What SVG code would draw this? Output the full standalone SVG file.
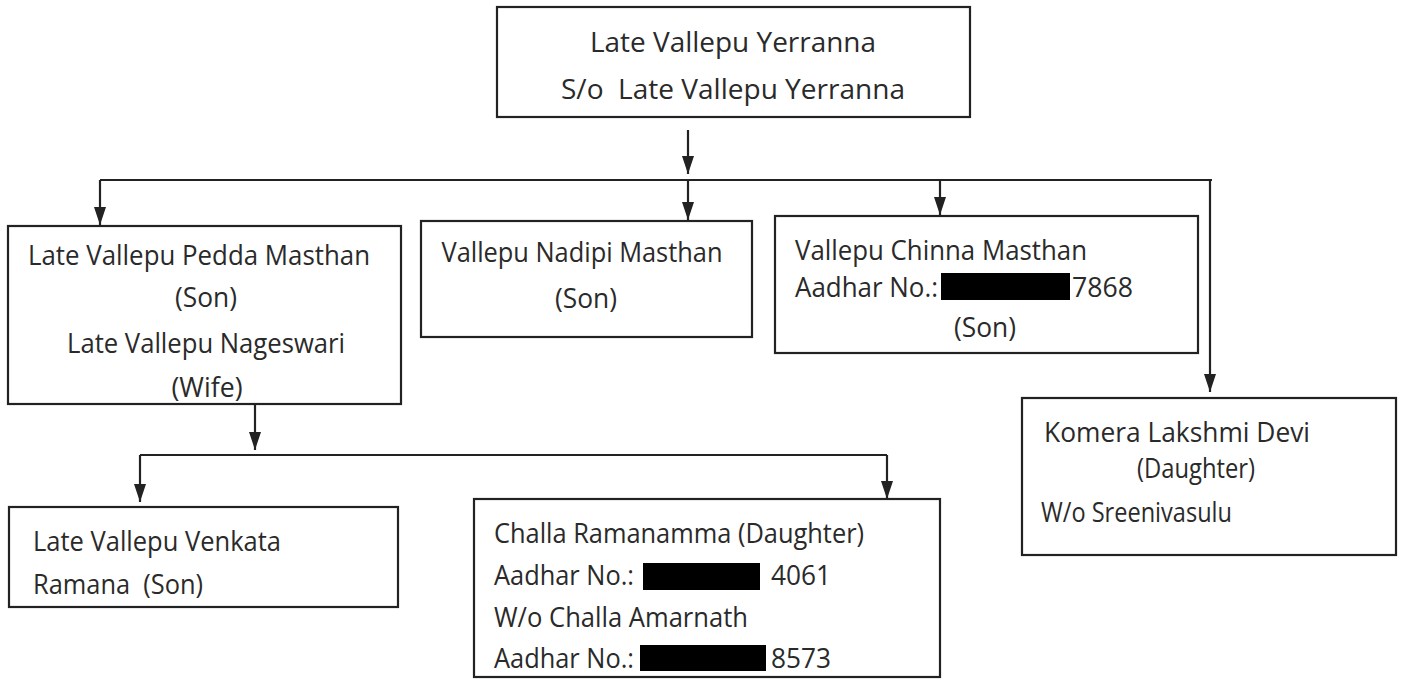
<svg xmlns="http://www.w3.org/2000/svg" width="1406" height="679" viewBox="0 0 1406 679">
<style>
.box{fill:#fff;stroke:#222;stroke-width:2.2}
.t{font-family:"Open Sans","Liberation Sans",sans-serif;font-size:27px;fill:#2a2a2a}
.c{text-anchor:middle}
.con{fill:none;stroke:#222;stroke-width:2.2}
.red{fill:#000}
</style>
<defs>
<marker id="ah" viewBox="0 0 18 12" refX="18" refY="6" markerWidth="18" markerHeight="12" markerUnits="userSpaceOnUse" orient="auto">
<path d="M0,0 L18,6 L0,12 z" fill="#222"/>
</marker>
</defs>
<rect width="1406" height="679" fill="#fff"/>
<g id="connectors">
<path class="con" d="M688,130 V174" marker-end="url(#ah)"/>
<path class="con" d="M100,180 H1212"/>
<path class="con" d="M100,180 V225" marker-end="url(#ah)"/>
<path class="con" d="M688,180 V220" marker-end="url(#ah)"/>
<path class="con" d="M940,180 V215" marker-end="url(#ah)"/>
<path class="con" d="M1210,180 V392" marker-end="url(#ah)"/>
<path class="con" d="M255,404 V450" marker-end="url(#ah)"/>
<path class="con" d="M140,455 H887"/>
<path class="con" d="M140,455 V502" marker-end="url(#ah)"/>
<path class="con" d="M887,455 V499" marker-end="url(#ah)"/>
</g>
<g id="root">
<rect class="box" x="497" y="7" width="473" height="110"/>
<text class="t c" x="733" y="52" textLength="286" lengthAdjust="spacingAndGlyphs">Late Vallepu Yerranna</text>
<text class="t c" x="733" y="99" textLength="344" lengthAdjust="spacingAndGlyphs" xml:space="preserve">S/o  Late Vallepu Yerranna</text>
</g>
<g id="pedda">
<rect class="box" x="8" y="226" width="393" height="178"/>
<text class="t c" x="199" y="265" textLength="342" lengthAdjust="spacingAndGlyphs">Late Vallepu Pedda Masthan</text>
<text class="t c" x="206" y="307" textLength="62" lengthAdjust="spacingAndGlyphs">(Son)</text>
<text class="t c" x="206" y="353" textLength="278" lengthAdjust="spacingAndGlyphs">Late Vallepu Nageswari</text>
<text class="t c" x="207" y="397" textLength="71" lengthAdjust="spacingAndGlyphs">(Wife)</text>
</g>
<g id="nadipi">
<rect class="box" x="421" y="221" width="331" height="116"/>
<text class="t c" x="582" y="262" textLength="281" lengthAdjust="spacingAndGlyphs">Vallepu Nadipi Masthan</text>
<text class="t c" x="586" y="308" textLength="62" lengthAdjust="spacingAndGlyphs">(Son)</text>
</g>
<g id="chinna">
<rect class="box" x="775" y="216" width="423" height="137"/>
<text class="t" x="795" y="260" textLength="292" lengthAdjust="spacingAndGlyphs">Vallepu Chinna Masthan</text>
<text class="t" x="795" y="297" textLength="143" lengthAdjust="spacingAndGlyphs">Aadhar No.:</text>
<rect class="red" x="941" y="273" width="129" height="27"/>
<text class="t" x="1072" y="297" textLength="61" lengthAdjust="spacingAndGlyphs">7868</text>
<text class="t c" x="985" y="337" textLength="62" lengthAdjust="spacingAndGlyphs">(Son)</text>
</g>
<g id="komera">
<rect class="box" x="1022" y="398" width="374" height="157"/>
<text class="t" x="1044" y="442" textLength="266" lengthAdjust="spacingAndGlyphs">Komera Lakshmi Devi</text>
<text class="t" x="1137" y="478" textLength="118" lengthAdjust="spacingAndGlyphs">(Daughter)</text>
<text class="t" x="1041" y="522" textLength="191" lengthAdjust="spacingAndGlyphs">W/o Sreenivasulu</text>
</g>
<g id="venkata">
<rect class="box" x="9" y="507" width="389" height="100"/>
<text class="t" x="33" y="551" textLength="248" lengthAdjust="spacingAndGlyphs">Late Vallepu Venkata</text>
<text class="t" x="33" y="594" textLength="170" lengthAdjust="spacingAndGlyphs" xml:space="preserve">Ramana  (Son)</text>
</g>
<g id="challa">
<rect class="box" x="474" y="499" width="466" height="178"/>
<text class="t" x="494" y="543" textLength="370" lengthAdjust="spacingAndGlyphs">Challa Ramanamma (Daughter)</text>
<text class="t" x="494" y="585" textLength="140" lengthAdjust="spacingAndGlyphs">Aadhar No.:</text>
<rect class="red" x="643" y="563" width="117" height="27"/>
<text class="t" x="771" y="585" textLength="60" lengthAdjust="spacingAndGlyphs">4061</text>
<text class="t" x="494" y="627" textLength="254" lengthAdjust="spacingAndGlyphs">W/o Challa Amarnath</text>
<text class="t" x="494" y="668" textLength="140" lengthAdjust="spacingAndGlyphs">Aadhar No.:</text>
<rect class="red" x="640" y="645" width="126" height="26"/>
<text class="t" x="771" y="668" textLength="60" lengthAdjust="spacingAndGlyphs">8573</text>
</g>
</svg>
